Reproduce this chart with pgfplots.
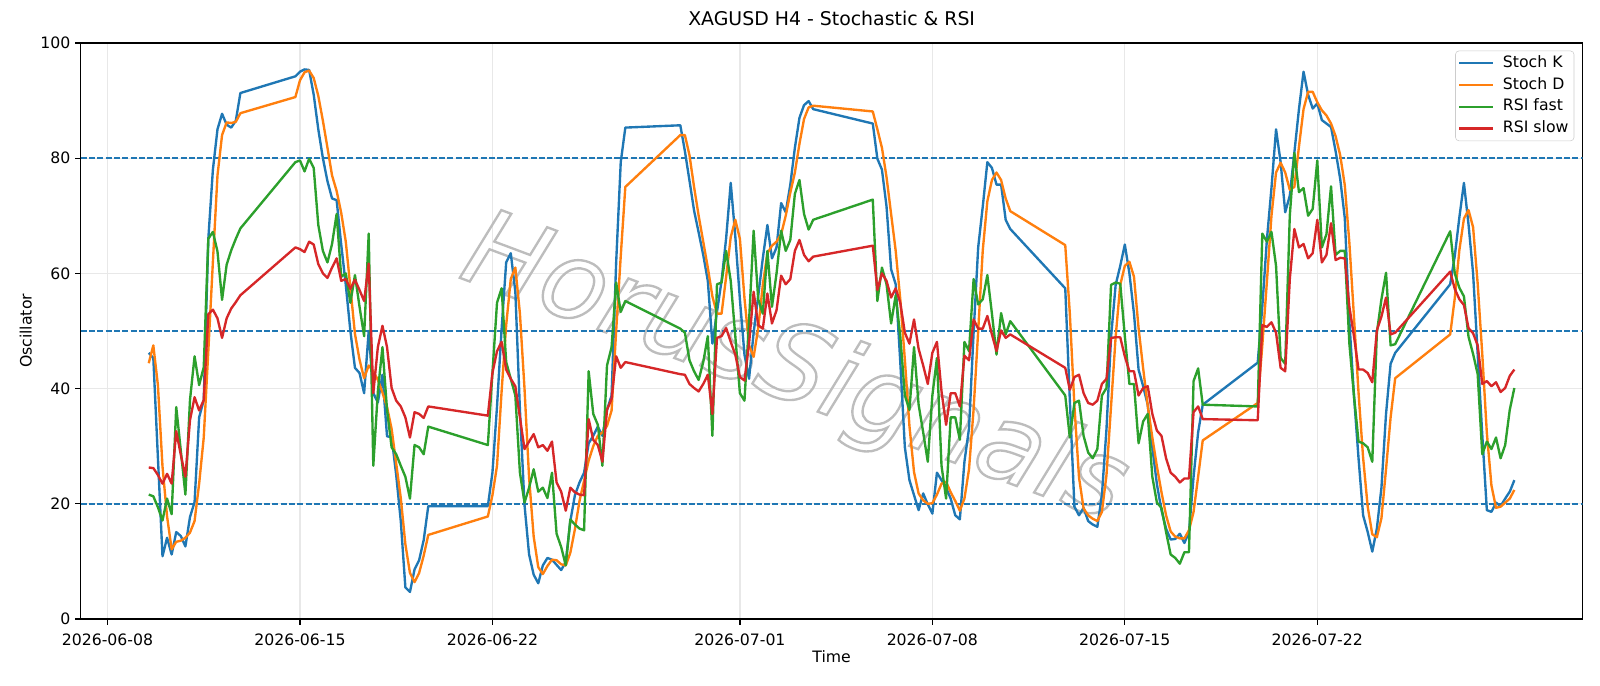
\documentclass[border=0pt]{standalone}
\usepackage{fontspec}
\setmainfont{DejaVu Sans}
\usepackage{pgfplots}
\usepackage{pgfplotstable}
\pgfplotsset{compat=1.18}
\definecolor{tabblue}{HTML}{1F77B4}
\definecolor{taborange}{HTML}{FF7F0E}
\definecolor{tabgreen}{HTML}{2CA02C}
\definecolor{tabred}{HTML}{D62728}

% bar = 4h bar index counted from 2026-06-08 00:00
\pgfplotstableread{
bar k d rf rs
9 46.2 44.4 21.6 26.3
10 45.3 47.5 21.3 26.2
11 28.0 40.6 19.4 25.0
12 10.9 26.5 17.1 23.5
13 14.1 17.8 20.9 25.2
14 11.2 12.1 18.2 23.5
15 15.1 13.4 36.8 32.6
16 14.4 13.6 29.2 28.5
17 12.6 14.1 21.6 24.7
18 17.7 15.0 38.0 34.5
19 20.3 17.0 45.6 38.5
20 35.0 23.5 40.6 36.2
21 38.0 31.5 43.7 38.0
22 66.0 46.5 66.0 52.9
23 78.0 62.0 67.2 53.7
24 85.0 77.0 63.8 52.2
25 87.7 84.0 55.4 48.8
26 85.8 86.2 61.5 52.2
27 85.3 86.1 64.0 53.9
28 86.5 86.3 66.0 55.0
29 91.3 87.8 67.8 56.2
41 94.2 90.6 79.3 64.5
42 95.0 93.5 79.6 64.2
43 95.4 94.9 77.7 63.7
44 95.3 95.2 79.9 65.5
45 91.0 93.9 78.3 65.0
46 85.0 90.8 68.4 61.6
47 80.0 86.5 63.9 60.0
48 76.0 81.8 61.9 59.2
49 73.0 77.0 65.1 61.0
50 72.7 74.3 70.3 62.6
51 65.0 70.5 59.4 58.7
52 58.0 65.5 60.0 59.0
53 50.0 57.5 54.9 57.3
54 43.6 49.5 59.7 58.9
55 42.7 45.0 54.2 57.1
56 39.2 41.8 49.1 55.2
57 50.0 44.0 66.9 61.7
58 39.2 43.0 26.6 39.2
59 37.6 41.5 39.5 47.2
60 42.4 39.3 47.2 50.9
61 31.7 36.8 36.3 47.2
62 31.6 33.0 29.8 40.1
63 25.0 27.0 28.6 37.9
64 17.0 21.0 26.6 36.9
65 5.5 13.0 24.7 35.0
66 4.7 8.0 20.9 31.5
67 8.6 6.4 30.2 35.9
68 10.2 8.0 29.8 35.6
69 13.7 11.0 28.6 34.9
70 19.6 14.6 33.4 36.9
83 19.6 17.8 30.2 35.3
84 25.4 21.5 42.7 42.7
85 36.9 26.6 54.9 46.5
86 50.3 39.5 57.4 48.1
87 61.9 51.0 44.6 43.3
88 63.5 59.0 41.7 41.7
89 56.8 61.0 38.8 40.4
90 36.3 53.0 25.4 35.0
91 19.8 40.0 20.2 29.5
92 11.2 24.5 22.8 30.8
93 7.7 14.3 26.0 32.1
94 6.2 9.0 22.1 29.8
95 9.3 7.8 22.8 30.2
96 10.6 9.2 21.0 29.2
97 10.3 10.3 25.4 30.8
98 9.4 10.2 14.8 23.7
99 8.5 9.5 12.5 22.1
100 9.9 9.3 9.3 18.8
101 17.0 11.5 17.3 22.8
102 21.5 15.6 16.4 22.0
103 23.7 20.5 15.7 21.6
104 25.4 24.0 15.4 21.5
105 30.5 27.5 43.0 34.7
106 31.8 30.0 35.6 31.1
107 33.4 31.8 33.7 30.2
108 31.8 32.4 26.6 27.3
109 36.3 33.5 44.0 36.3
110 38.8 36.2 47.2 38.2
111 61.9 50.0 58.4 45.6
112 79.3 63.0 53.3 43.6
113 85.3 75.0 55.2 44.6
125 85.7 84.0 50.4 42.5
126 81.2 84.0 49.7 42.4
127 76.1 80.5 44.9 40.8
128 70.9 75.0 43.0 40.1
129 67.1 70.0 41.5 39.5
130 63.2 65.5 44.6 40.8
131 58.7 61.0 49.1 42.4
132 47.8 56.0 31.8 35.6
133 53.3 53.0 58.1 48.8
134 58.7 53.0 58.4 49.1
135 66.1 59.4 63.9 50.5
136 75.7 66.3 58.7 48.1
137 66.4 69.3 49.1 45.9
138 55.5 66.0 39.2 42.0
139 45.9 55.7 37.9 41.4
140 41.7 47.5 51.7 47.8
141 49.7 45.5 67.4 56.8
142 56.1 50.5 55.5 51.0
143 62.6 58.0 53.0 50.4
144 68.4 63.5 63.9 56.5
145 62.6 64.8 54.2 51.3
146 64.5 65.5 60.0 53.6
147 72.2 66.8 67.4 59.6
148 70.6 70.0 63.9 58.1
149 75.4 74.0 65.8 59.0
150 81.8 77.5 73.8 63.9
151 87.0 82.5 76.2 65.8
152 89.2 86.8 70.3 63.2
153 89.9 88.8 67.6 62.1
154 88.5 89.1 69.3 62.9
167 86.0 88.1 72.8 64.8
168 79.9 85.0 55.2 57.1
169 78.0 81.8 61.0 60.0
170 71.6 76.7 58.1 58.7
171 60.7 70.3 51.3 55.8
172 58.1 63.9 56.2 57.4
173 44.6 55.5 49.1 54.9
174 29.8 45.0 38.8 49.7
175 24.1 33.5 36.3 47.8
176 21.5 25.5 47.2 52.0
177 18.9 21.8 37.2 46.9
178 21.8 20.6 32.4 44.0
179 19.9 20.0 27.3 40.8
180 18.3 20.1 38.8 46.2
181 25.4 21.6 45.3 48.1
182 24.1 23.5 26.6 39.5
183 22.8 23.8 20.9 33.7
184 20.9 22.0 35.0 39.2
185 18.0 20.5 35.0 39.2
186 17.3 18.8 31.1 36.9
187 27.3 20.9 48.1 45.7
188 33.1 26.0 46.5 44.9
189 49.7 36.4 59.0 52.0
190 64.5 50.0 54.6 50.4
191 71.6 64.0 55.5 50.4
192 79.3 72.5 59.7 52.6
193 78.3 76.2 53.0 49.4
194 75.4 77.5 45.9 46.5
195 75.4 76.2 53.1 50.1
196 69.3 73.0 49.4 48.8
197 67.7 70.8 51.7 49.4
209 57.4 64.9 38.8 43.6
210 38.0 53.0 31.5 39.8
211 19.5 37.0 37.5 42.0
212 18.0 24.6 37.9 42.4
213 19.3 19.2 31.8 39.2
214 17.0 18.0 28.9 37.5
215 16.4 17.4 27.9 37.2
216 16.0 17.0 29.5 37.9
217 21.5 18.6 38.8 40.8
218 33.0 25.0 40.1 41.7
219 49.0 37.0 58.0 48.8
220 58.0 49.0 58.4 48.9
221 61.3 58.0 58.2 48.9
222 65.0 61.3 49.1 45.6
223 60.0 62.0 40.8 43.0
224 53.0 59.4 40.8 43.0
225 43.3 50.5 30.5 38.8
226 40.4 43.5 34.3 40.1
227 37.2 37.0 35.6 40.4
228 29.8 31.5 24.7 35.6
229 23.4 26.5 20.2 32.7
230 18.9 22.0 19.3 31.8
231 15.7 18.0 15.1 27.9
232 13.8 15.2 11.2 25.4
233 13.9 14.3 10.6 24.7
234 14.8 14.0 9.6 23.7
235 13.2 14.0 11.6 24.4
236 15.1 15.4 11.6 24.4
237 24.7 18.6 41.3 35.9
238 32.4 24.7 43.5 36.9
239 37.2 31.0 37.2 34.7
251 44.5 37.5 36.9 34.5
252 54.2 47.5 66.9 51.0
253 65.8 58.5 65.5 50.7
254 74.8 70.0 67.2 51.5
255 85.0 77.5 61.3 49.7
256 79.3 79.2 45.3 43.6
257 70.6 77.5 44.3 43.0
258 73.5 74.5 70.0 59.0
259 81.0 75.0 80.9 67.7
260 88.5 82.0 74.1 64.5
261 95.0 88.5 74.8 65.1
262 91.0 91.5 70.0 62.6
263 88.6 91.5 71.2 63.5
264 89.5 89.7 79.6 69.3
265 86.6 88.3 64.5 61.9
266 86.0 87.4 66.8 63.2
267 85.4 86.0 75.1 68.7
268 81.2 83.8 63.2 62.3
269 76.4 80.5 63.9 62.7
270 69.6 75.3 63.9 62.6
271 51.7 65.3 47.8 54.2
272 38.8 52.5 38.8 49.1
273 27.9 39.3 30.8 43.3
274 18.0 28.0 30.5 43.3
275 15.1 19.5 29.8 42.7
276 11.7 14.7 27.3 41.1
277 15.7 14.2 49.7 50.1
278 22.8 17.5 55.5 52.5
279 35.6 26.0 60.1 55.8
280 44.3 35.0 47.5 49.4
281 46.2 41.8 47.7 49.7
293 58.1 49.4 67.3 60.3
294 63.0 55.7 60.0 57.3
295 69.7 64.0 57.5 55.5
296 75.7 69.5 56.0 54.5
297 68.5 71.0 49.0 50.5
298 60.0 68.0 46.0 49.6
299 46.0 58.2 42.5 47.5
300 32.0 46.0 28.6 40.8
301 18.9 32.3 30.8 41.3
302 18.6 23.2 29.5 40.4
303 20.2 19.3 31.5 41.1
304 19.6 19.5 27.9 39.4
305 20.9 20.2 30.2 40.1
306 22.1 20.9 36.3 42.2
307 24.1 22.4 40.1 43.3
}\osc

\begin{document}
\begin{tikzpicture}
\begin{axis}[
  scale only axis,
  width=1081.4pt, height=414.8pt,
  xmin=-5.85, xmax=321.9, ymin=0, ymax=100,
  xtick={0,42,84,138,180,222,264},
  xticklabels={2026-06-08,2026-06-15,2026-06-22,2026-07-01,2026-07-08,2026-07-15,2026-07-22},
  ytick={0,20,40,60,80,100},
  tick align=outside,
  major tick length=3.95pt,
  every tick/.style={black, line width=0.9pt},
  axis line style={line width=0.9pt},
  xtick pos=bottom, ytick pos=left,
  grid=major,
  major grid style={black!9, line width=0.9pt},
  tick label style={font=\fontsize{11.3}{13.6}\selectfont},
  xticklabel style={yshift=-3pt},
  /pgf/number format/assume math mode=true,
  xlabel={Time}, ylabel={Oscillator},
  label style={font=\fontsize{11.3}{13.6}\selectfont},
  xlabel style={at={(axis description cs:0.5,-0.0747)}, anchor=base},
  ylabel style={at={(axis description cs:-0.0366,0.5)}, anchor=center},
  title={XAGUSD H4 - Stochastic \& RSI},
  title style={font=\fontsize{13.6}{16}\selectfont, at={(axis description cs:0.5,1.0164)}, anchor=base},
  legend style={at={(1,1)}, anchor=north east, xshift=-6pt, yshift=-5.6pt,
    draw=black!20, rounded corners=2.5pt, fill=white, fill opacity=0.8, text opacity=1,
    font=\fontsize{11.3}{13.6}\selectfont, inner xsep=2pt, inner ysep=2pt,
    nodes={inner xsep=2pt, inner ysep=1.5pt, text height=8.3pt, text depth=2.3pt},
    row sep=2.1pt, column sep=4pt},
  legend cell align=left,
  legend image code/.code={\draw[#1, line width=1.7pt] (0pt,0pt) -- (24.5pt,0pt);},
  every axis plot/.append style={line width=1.7pt, line join=round},
]
\node[rotate=-20.5, text=black!26, font=\fontsize{77}{77}\selectfont\itshape] at (rel axis cs:0.475,0.43) {\special{pdf:literal direct 1 Tr 1.7 w}HorusSignals\special{pdf:literal direct 0 Tr}};
\addplot[tabblue, line width=1.13pt, dash pattern=on 4.2pt off 1.8pt, forget plot] coordinates {(-5.85,20) (321.9,20)};
\addplot[tabblue, line width=1.13pt, dash pattern=on 4.2pt off 1.8pt, forget plot] coordinates {(-5.85,50) (321.9,50)};
\addplot[tabblue, line width=1.13pt, dash pattern=on 4.2pt off 1.8pt, forget plot] coordinates {(-5.85,80) (321.9,80)};
\addplot[tabblue, no markers] table[x=bar, y=k] {\osc};
\addlegendentry{Stoch K}
\addplot[taborange, no markers] table[x=bar, y=d] {\osc};
\addlegendentry{Stoch D}
\addplot[tabgreen, no markers] table[x=bar, y=rf] {\osc};
\addlegendentry{RSI fast}
\addplot[tabred, no markers] table[x=bar, y=rs] {\osc};
\addlegendentry{RSI slow}
\end{axis}
\pgfresetboundingbox
\path[use as bounding box] (-58.1pt,-48.2pt) rectangle (1093.9pt,445.7pt);
\end{tikzpicture}
\end{document}
